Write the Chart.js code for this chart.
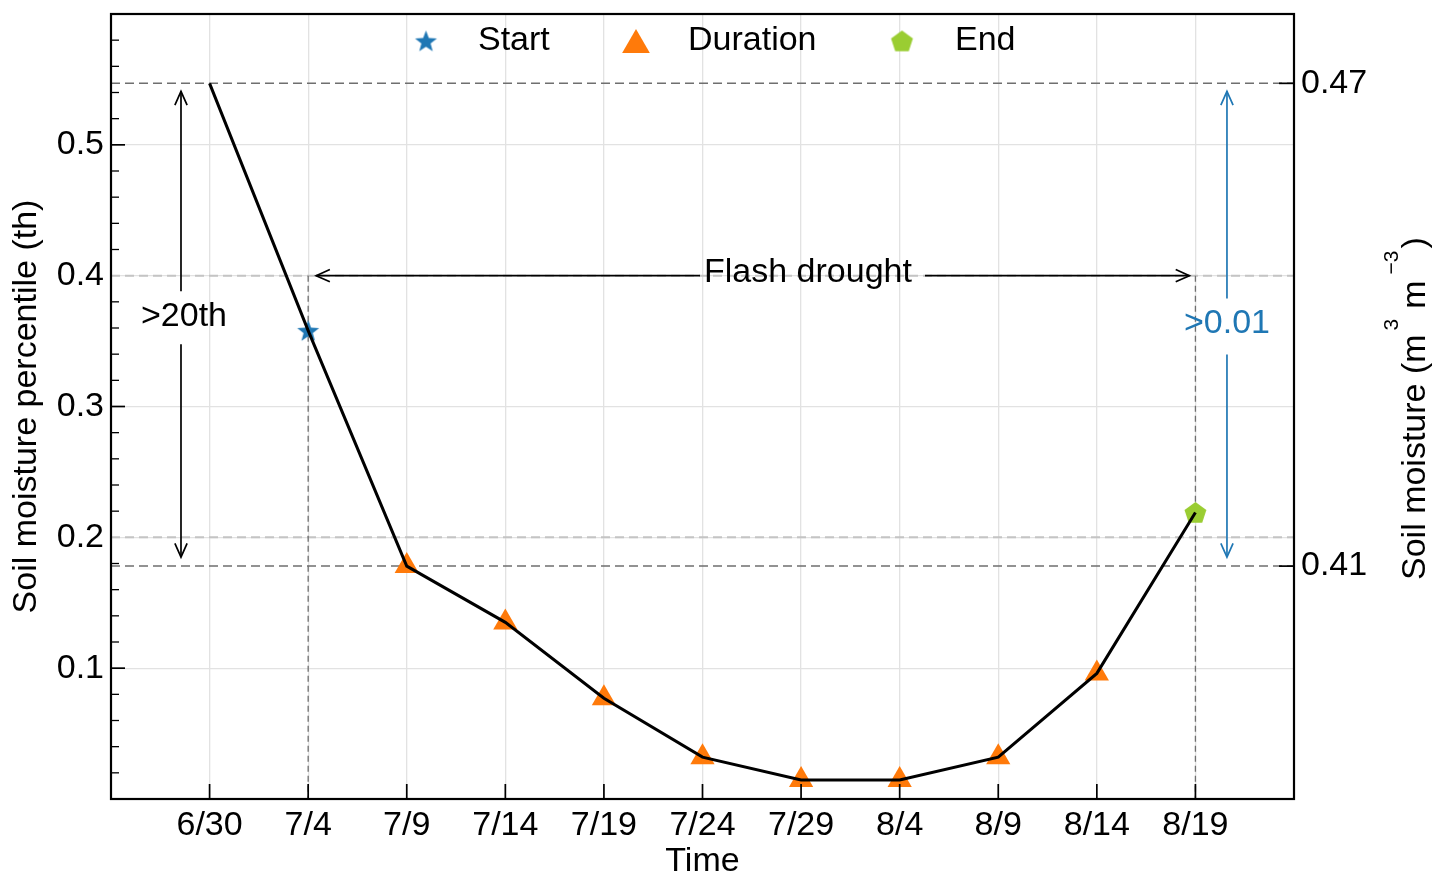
<!DOCTYPE html>
<html>
<head>
<meta charset="utf-8">
<title>Flash drought</title>
<script src="https://cdn.jsdelivr.net/npm/chart.js@4/dist/chart.umd.min.js"></script>
<style>
  html, body { margin: 0; padding: 0; background: #fff; }
  #wrap { width: 1446px; height: 882px; }
</style>
</head>
<body>
<div id="wrap"><canvas id="chart" width="1446" height="882"></canvas></div>
<script>
// ---- data ----
const dates = ['6/30', '7/4', '7/9', '7/14', '7/19', '7/24', '7/29', '8/4', '8/9', '8/14', '8/19'];
const percentile = [0.547, 0.358, 0.178, 0.135, 0.077, 0.032, 0.0145, 0.0145, 0.032, 0.096, 0.219];
const startIndex = [1];
const durationIndex = [2, 3, 4, 5, 6, 7, 8, 9];
const endIndex = [10];
const leftTicks = [0.1, 0.2, 0.3, 0.4, 0.5];
const leftMinorStep = 0.02;
const rightTicks = [0.41, 0.47];
// percentile levels that line up with the soil-moisture ticks above
const rightAnchors = [0.178, 0.547];
const droughtLevel = 0.4;
const thresholdLevel = 0.2;

// ---- styling ----
const FONT = "'Liberation Sans', Arial, Helvetica, sans-serif";
const FS = 34;
const f = (s) => s + 'px ' + FONT;
const BLUE = '#1f77b4', ORANGE = '#ff7a0a', GREEN = '#9acd32';

function makeMarker(kind, color, size) {
  const c = document.createElement('canvas');
  c.width = c.height = size;
  const g = c.getContext('2d');
  const cx = size / 2, cy = size / 2, R = size / 2 - 1;
  g.fillStyle = color;
  g.beginPath();
  if (kind === 'star') {
    for (let i = 0; i < 10; i++) {
      const r = i % 2 ? R * 0.42 : R;
      const a = -Math.PI / 2 + i * Math.PI / 5;
      const x = cx + r * Math.cos(a), y = cy + r * Math.sin(a) + 1;
      i ? g.lineTo(x, y) : g.moveTo(x, y);
    }
  } else {
    for (let i = 0; i < 5; i++) {
      const a = -Math.PI / 2 + i * 2 * Math.PI / 5;
      const x = cx + R * Math.cos(a), y = cy + R * Math.sin(a) + 1;
      i ? g.lineTo(x, y) : g.moveTo(x, y);
    }
  }
  g.closePath();
  g.fill();
  return c;
}
const starImg = makeMarker('star', BLUE, 25);
const pentImg = makeMarker('pent', GREEN, 25);

const pts = (idx) => idx.map(i => ({ x: i, y: percentile[i] }));

// right axis range follows the anchor pairing
const slope = (rightTicks[1] - rightTicks[0]) / (rightAnchors[1] - rightAnchors[0]);
const Y_MIN = 0, Y_MAX = 0.6;
const y2Min = rightTicks[0] + (Y_MIN - rightAnchors[0]) * slope;
const y2Max = rightTicks[0] + (Y_MAX - rightAnchors[0]) * slope;

// ---- drawing helpers ----
function seg(ctx, x1, y1, x2, y2) {
  ctx.beginPath(); ctx.moveTo(x1, y1); ctx.lineTo(x2, y2); ctx.stroke();
}
function head(ctx, x, y, ang) {
  const L = 15, w = 0.42;
  ctx.beginPath();
  ctx.moveTo(x - L * Math.cos(ang - w), y - L * Math.sin(ang - w));
  ctx.lineTo(x, y);
  ctx.lineTo(x - L * Math.cos(ang + w), y - L * Math.sin(ang + w));
  ctx.stroke();
}
// straight double arrow from p1 to p2, broken around a label at (tx, ty)
function labelledArrow(ctx, p1, p2, tx, ty, text, color, gapA, gapB) {
  ctx.save();
  ctx.strokeStyle = color; ctx.fillStyle = color; ctx.lineWidth = 1.7; ctx.setLineDash([]);
  ctx.font = f(FS); ctx.textAlign = 'center'; ctx.textBaseline = 'middle';
  ctx.fillText(text, tx, ty);
  if (p1.x === p2.x) {
    seg(ctx, p1.x, p1.y, p1.x, ty - gapA);
    seg(ctx, p1.x, ty + gapB, p2.x, p2.y);
    head(ctx, p1.x, p1.y, -Math.PI / 2);
    head(ctx, p2.x, p2.y, Math.PI / 2);
  } else {
    seg(ctx, p1.x, p1.y, tx - gapA, p1.y);
    seg(ctx, tx + gapB, p1.y, p2.x, p2.y);
    head(ctx, p1.x, p1.y, Math.PI);
    head(ctx, p2.x, p2.y, 0);
  }
  ctx.restore();
}

const decorPlugin = {
  id: 'decor',
  beforeDatasetsDraw(chart) {
    const { ctx, chartArea: a, scales: { x, y, y2 } } = chart;
    ctx.save();
    // light threshold lines
    ctx.strokeStyle = '#c4c4c4'; ctx.lineWidth = 2; ctx.setLineDash([9, 5]);
    [droughtLevel, thresholdLevel].forEach(v => {
      const py = y.getPixelForValue(v); seg(ctx, a.left, py, a.right, py);
    });
    // soil-moisture reference lines
    ctx.strokeStyle = '#6f6f6f'; ctx.lineWidth = 1.5; ctx.setLineDash([9, 5]);
    rightTicks.forEach(v => {
      const py = y2.getPixelForValue(v); seg(ctx, a.left, py, a.right, py);
    });
    // onset / end markers of the event
    ctx.lineWidth = 1.3; ctx.setLineDash([6, 4]);
    [startIndex[0], endIndex[0]].forEach(i => {
      const px = x.getPixelForValue(i);
      seg(ctx, px, y.getPixelForValue(droughtLevel), px, a.bottom);
    });
    ctx.restore();

    const yTop = y.getPixelForValue(rightAnchors[1]) + 8;
    const yBot = y.getPixelForValue(rightAnchors[0]) - 9;
    // percentile drop
    const xl = x.getPixelForValue(-0.29);
    labelledArrow(ctx, { x: xl, y: yTop }, { x: xl, y: yBot },
      xl + 3, y.getPixelForValue(0.369), '>20th', '#000', 25, 28);
    // soil moisture drop
    const xr = x.getPixelForValue(10.32);
    labelledArrow(ctx, { x: xr, y: yTop }, { x: xr, y: yBot },
      xr, y.getPixelForValue(0.3635), '>0.01', BLUE, 25, 31);
    // event duration
    const yd = y.getPixelForValue(droughtLevel);
    labelledArrow(ctx, { x: x.getPixelForValue(startIndex[0]) + 8, y: yd },
      { x: x.getPixelForValue(endIndex[0]) - 6, y: yd },
      x.getPixelForValue(6.07), yd - 3, 'Flash drought', '#000', 108, 117);
  },
  afterDatasetsDraw(chart) {
    const { ctx, chartArea: a, scales: { x, y, y2 } } = chart;
    ctx.save();
    ctx.strokeStyle = '#000'; ctx.setLineDash([]);
    // inward ticks
    ctx.lineWidth = 1.7;
    for (let i = 0; i < dates.length; i++) {
      const px = x.getPixelForValue(i); seg(ctx, px, a.bottom, px, a.bottom - 15);
    }
    [0.1, 0.3, 0.5].forEach(v => {
      const py = y.getPixelForValue(v); seg(ctx, a.left, py, a.left + 14, py);
    });
    ctx.lineWidth = 1.3;
    for (let k = 1; k < 30; k++) {
      if (k % 5 === 0) continue;
      const py = y.getPixelForValue(k * leftMinorStep); seg(ctx, a.left, py, a.left + 8, py);
    }
    ctx.lineWidth = 1.7;
    rightTicks.forEach(v => {
      const py = y2.getPixelForValue(v); seg(ctx, a.right, py, a.right - 15, py);
    });
    // frame
    ctx.lineWidth = 2.2;
    ctx.strokeRect(a.left, a.top, a.right - a.left, a.bottom - a.top);

    // legend
    ctx.font = f(FS); ctx.fillStyle = '#000'; ctx.textAlign = 'left'; ctx.textBaseline = 'middle';
    const ly = 41;
    ctx.drawImage(starImg, 426 - 12.5, ly - 12.5);
    ctx.fillText('Start', 478, ly);
    ctx.fillStyle = ORANGE;
    ctx.beginPath();
    const r = 16, tx = 636, ty = ly + 4;
    ctx.moveTo(tx, ty - r);
    ctx.lineTo(tx + r * Math.sin(2 * Math.PI / 3), ty - r * Math.cos(2 * Math.PI / 3));
    ctx.lineTo(tx + r * Math.sin(4 * Math.PI / 3), ty - r * Math.cos(4 * Math.PI / 3));
    ctx.closePath(); ctx.fill();
    ctx.fillStyle = '#000';
    ctx.fillText('Duration', 688, ly);
    ctx.drawImage(pentImg, 902 - 12.5, ly - 12.5);
    ctx.fillText('End', 955, ly);

    // right axis title with superscripts
    ctx.translate(1425, 580);
    ctx.rotate(-Math.PI / 2);
    ctx.textBaseline = 'alphabetic';
    let cx = 0;
    const put = (t, size, dy) => { ctx.font = f(size); ctx.fillText(t, cx, dy); cx += ctx.measureText(t).width; };
    put('Soil moisture (', FS, 0);
    put('m', FS, 0);
    cx += 4; put('3', 21, -27);
    cx += 10; put('m', FS, 0);
    cx += 6; put('\u22123', 21, -27);
    cx += 2; put(')', FS, 0);
    ctx.restore();
  }
};

const noEdgePadding = (s) => { s.paddingTop = 0; s.paddingBottom = 0; s.paddingLeft = 0; s.paddingRight = 0; };

new Chart(document.getElementById('chart'), {
  type: 'line',
  data: {
    datasets: [
      {
        label: 'Soil moisture percentile',
        data: dates.map((d, i) => ({ x: i, y: percentile[i] })),
        borderColor: '#000', borderWidth: 3, pointRadius: 0, tension: 0,
        fill: false, order: 0
      },
      {
        label: 'Start', data: pts(startIndex), showLine: false,
        pointStyle: starImg, pointRadius: 12, order: 1
      },
      {
        label: 'Duration', data: pts(durationIndex), showLine: false,
        pointStyle: 'triangle', pointRadius: 14, backgroundColor: ORANGE,
        borderColor: ORANGE, borderWidth: 0, order: 1
      },
      {
        label: 'End', data: pts(endIndex), showLine: false,
        pointStyle: pentImg, pointRadius: 12, order: 1
      }
    ]
  },
  options: {
    responsive: false,
    animation: false,
    devicePixelRatio: 1,
    layout: { padding: { top: 10, left: 0, right: 0, bottom: 0 } },
    plugins: { legend: { display: false }, tooltip: { enabled: false } },
    scales: {
      x: {
        type: 'linear', min: -1, max: dates.length,
        afterFit: s => { s.height = 83; noEdgePadding(s); },
        afterBuildTicks: s => { s.ticks = [-1, ...dates.map((d, i) => i), dates.length].map(v => ({ value: v })); },
        ticks: {
          autoSkip: false, maxRotation: 0, padding: 6, color: '#000', font: { family: FONT, size: FS },
          callback: v => (dates[v] !== undefined ? dates[v] : '')
        },
        grid: { color: '#e2e2e2', lineWidth: 1.3, drawTicks: false },
        border: { display: false },
        title: { display: true, text: 'Time', color: '#000', font: { family: FONT, size: FS }, padding: { top: 0, bottom: 0 } }
      },
      y: {
        type: 'linear', position: 'left', min: Y_MIN, max: Y_MAX,
        afterFit: s => { s.width = 111; noEdgePadding(s); },
        afterBuildTicks: s => { s.ticks = leftTicks.map(v => ({ value: v })); },
        ticks: { padding: 7, color: '#000', font: { family: FONT, size: FS }, callback: v => v.toFixed(1) },
        grid: { color: '#e2e2e2', lineWidth: 1.3, drawTicks: false },
        border: { display: false },
        title: { display: true, text: 'Soil moisture percentile (th)', color: '#000', font: { family: FONT, size: FS }, padding: { top: 6, bottom: 0 } }
      },
      y2: {
        type: 'linear', position: 'right', min: y2Min, max: y2Max,
        afterFit: s => { s.width = 152; noEdgePadding(s); },
        afterBuildTicks: s => { s.ticks = rightTicks.map(v => ({ value: v })); },
        ticks: { padding: 7, color: '#000', font: { family: FONT, size: FS }, callback: v => v.toFixed(2) },
        grid: { display: false, drawTicks: false },
        border: { display: false }
      }
    }
  },
  plugins: [decorPlugin]
});
</script>
</body>
</html>
